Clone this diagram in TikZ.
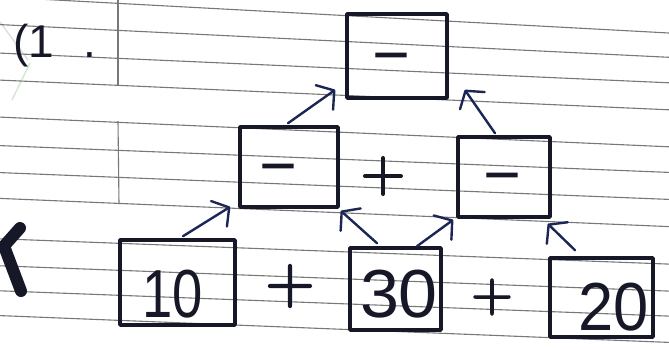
\documentclass[tikz,border=0pt]{standalone}
\usepackage{fontspec}
\newfontfamily\handfont{Liberation Sans}
\newfontfamily\dashfont[FakeBold=2]{Liberation Sans}
\newfontfamily\plusfont[FakeBold=2.5]{lmroman10-regular.otf}
\usetikzlibrary{arrows.meta}
\definecolor{ink}{RGB}{22,24,40}
\definecolor{blueink}{RGB}{28,38,84}
\definecolor{rulegray}{RGB}{120,120,120}
\begin{document}
\begin{tikzpicture}[x=1pt,y=-1pt,
  paperline/.style={draw=rulegray, line width=1.1pt},
  boxnode/.style={draw=ink, line width=3.6pt, line join=round, inner sep=0pt},
  arr/.style={draw=blueink, line width=2.4pt, line cap=round,
    -{Straight Barb[length=12pt,width=30pt,round]}},
  digit/.style={text=ink, font=\handfont\fontsize{68}{68}\selectfont, inner sep=0pt, anchor=base},
  dashsign/.style={text=ink, font=\dashfont\fontsize{54}{54}\selectfont, inner sep=0pt},
  plussign/.style={text=ink, inner sep=0pt},
  titletext/.style={text=ink, font=\handfont\fontsize{46}{46}\selectfont, inner sep=0pt, anchor=base west}
]
\useasboundingbox (0,0) rectangle (669,349);
\fill[white] (0,0) rectangle (669,349);

% ruled paper
\foreach \a/\b in {-3/33, 24.6/57.3, 53.1/82.8, 80.1/109.8, 117.1/146.8, 145.6/172.4,
                   172.6/199.4, 198.4/226.6, 238.8/264.1, 265.8/291.1, 290.8/316.1, 315.6/342.4}
  \draw[paperline] (0,\a) -- (669,\b);
\draw[paperline] (118,0) -- (118,86);
\draw[paperline] (118,121) -- (119,204);

% faint pencil marks
\draw[gray, opacity=0.25, line width=1.5pt] (0,22) -- (28,60);
\draw[green!40!gray, opacity=0.25, line width=1.5pt] (30,63) -- (12,100);

% title and left mark
\node[titletext] (title) at (13,57) {(1\hspace{29pt}.};
\draw[ink, line width=12pt, line cap=round, line join=round] (20,228) -- (4,246) -- (21,291);

% boxes
\node[boxnode, minimum width=100pt, minimum height=84pt] (top) at (397,56) {};
\node[boxnode, minimum width=98pt, minimum height=80pt] (ml) at (289,167) {};
\node[boxnode, minimum width=92pt, minimum height=80pt] (mr) at (504,177) {};
\node[boxnode, minimum width=115pt, minimum height=85pt] (b10) at (177.5,282.5) {};
\node[boxnode, minimum width=91pt, minimum height=82pt] (b30) at (395.5,289) {};
\node[boxnode, minimum width=103pt, minimum height=79pt] (b20) at (601.5,297.5) {};

% box contents
\node[dashsign] (d1) at (391,61) {–};
\node[dashsign] (d2) at (278,172) {–};
\node[dashsign] (d3) at (502,181) {–};
\node[digit] (t10) at (173,317) {\scalebox{0.8}[1]{10}};
\node[digit] (t30) at (399,317) {\scalebox{1.03}[1]{30}};
\node[digit] (t20) at (614,330) {\scalebox{0.93}[1]{20}};

% plus signs
\node[plussign, font=\plusfont\fontsize{64}{64}\selectfont] (p1) at (290,286) {+};
\node[plussign, font=\plusfont\fontsize{58}{58}\selectfont] (p2) at (383,176) {+};
\node[plussign, font=\plusfont\fontsize{54}{54}\selectfont] (p3) at (492,297) {+};

% arrows
\draw[arr] ([shift={(5.5,-2)}]b10.north) -- ([shift={(-8,-2)}]ml.south west);
\draw[arr] ([shift={(-18.5,-3)}]b30.north) -- ([shift={(1,2)}]ml.south east);
\draw[arr] ([shift={(21.5,0)}]b30.north) -- ([shift={(-3,1)}]mr.south west);
\draw[arr] ([shift={(-26.5,-6)}]b20.north) -- ([shift={(-4,5)}]mr.south east);
\draw[arr] ([shift={(-1,-2)}]ml.north) -- ([shift={(-10,-10)}]top.south west);
\draw[arr] ([shift={(-9,-2)}]mr.north) -- ([shift={(16,-10)}]top.south east);
\end{tikzpicture}
\end{document}
